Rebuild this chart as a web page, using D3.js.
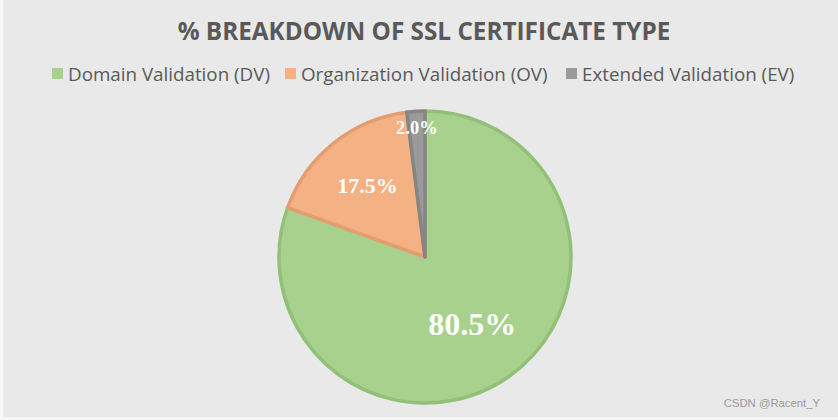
<!DOCTYPE html>
<html><head><meta charset="utf-8">
<script src="https://cdn.jsdelivr.net/npm/d3@7"></script>
<style>html,body{margin:0;padding:0;background:#fff;}svg{display:block;}</style>
</head><body>
<svg id="c" width="838" height="420"></svg>
<script>
const categories = ["Domain Validation (DV)", "Organization Validation (OV)", "Extended Validation (EV)"];
const values = [80.5, 17.5, 2.0];
const labels = ["80.5%", "17.5%", "2.0%"];
const fills = ["#a9d18e", "#f4b183", "#9a9a9a"];
const strokes = ["#92c078", "#e49d6f", "#858585"];
const title = "% BREAKDOWN OF SSL CERTIFICATE TYPE";

const svg = d3.select("#c");
const W = 838, H = 420;
svg.append("rect").attr("width", W).attr("height", H).attr("fill", "#f6f6f6");
svg.append("rect").attr("x", 3).attr("y", 0).attr("width", W - 3).attr("height", H - 3).attr("fill", "#e9e9e9");

svg.append("text").attr("x", 424).attr("y", 40).attr("text-anchor", "middle")
  .attr("font-family", "Open Sans, sans-serif").attr("font-weight", "bold").attr("font-size", 24.3)
  .attr("fill", "#595959").text(title);

// legend
const leg = svg.append("g");
const items = leg.selectAll("g").data(categories).join("g");
items.append("rect").attr("width", 11).attr("height", 11).attr("y", 68).attr("fill", (d, i) => fills[i]);
items.append("text").attr("x", 16).attr("y", 80.5)
  .attr("font-family", "Open Sans, sans-serif").attr("font-size", 18.8).attr("fill", "#595959").text(d => d);
const starts = [52, 285, 566];
items.attr("transform", (d, i) => `translate(${starts[i]},0)`);

// pie
const cx = 425, cy = 257, R = 146;
const pie = d3.pie().sort(null).value(d => d)(values);
const arc = d3.arc().innerRadius(0).outerRadius(R);
const g = svg.append("g").attr("transform", `translate(${cx},${cy})`);
g.selectAll("path").data(pie).join("path").attr("d", arc)
  .attr("fill", (d, i) => fills[i]).attr("stroke", (d, i) => strokes[i])
  .attr("stroke-width", 3.5).attr("stroke-linejoin", "round");
const labelR = [82, 92, 130];
const fsz = [32, 22, 18.5];
g.selectAll("text.lbl").data(pie).join("text").attr("class", "lbl")
  .attr("transform", (d, i) => {
    const c = d3.arc().innerRadius(labelR[i]).outerRadius(labelR[i]).centroid(d);
    return `translate(${c[0]},${c[1]})`;
  })
  .attr("dy", "0.35em").attr("text-anchor", "middle")
  .attr("font-family", "Liberation Serif, serif").attr("font-weight", "bold")
  .attr("font-size", (d, i) => fsz[i]).attr("fill", "#ffffff").text((d, i) => labels[i]);

svg.append("text").attr("x", 820).attr("y", 407).attr("text-anchor", "end")
  .attr("font-family", "Liberation Sans, Arial, sans-serif").attr("font-size", 11.3)
  .attr("fill", "#9a9a9a").text("CSDN @Racent_Y");
</script>
</body></html>
